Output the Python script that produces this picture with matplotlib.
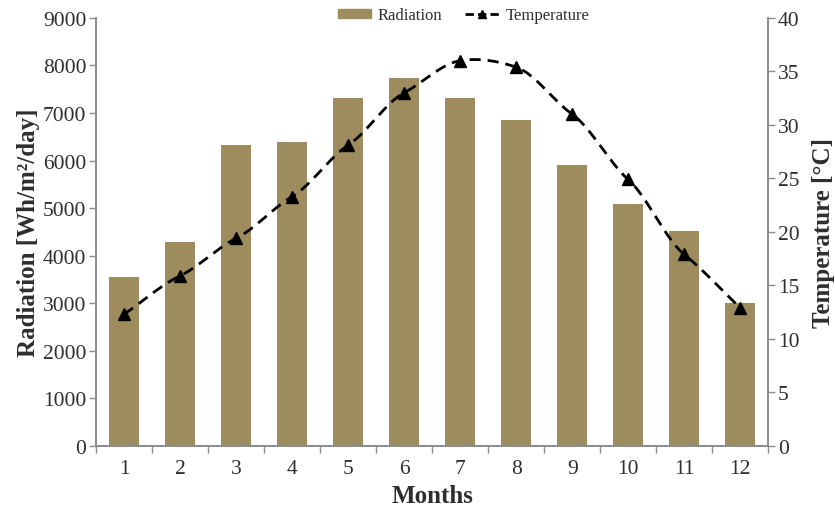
import numpy as np
import matplotlib
matplotlib.use("Agg")
import matplotlib.pyplot as plt
from matplotlib.lines import Line2D
from matplotlib.patches import Patch

months = [1, 2, 3, 4, 5, 6, 7, 8, 9, 10, 11, 12]
radiation = [3560, 4280, 6330, 6400, 7320, 7730, 7320, 6855, 5910, 5080, 4515, 3005]
temperature = [12.3, 15.9, 19.4, 23.3, 28.1, 33.0, 36.0, 35.4, 31.0, 24.9, 17.9, 12.9]

plt.rcParams['font.family'] = ['Liberation Serif', 'DejaVu Serif']

bar_color = '#9e8c5f'
spine_color = '#8c8c8c'
text_color = '#2e2e2e'

fig = plt.figure(figsize=(8.35, 5.10), dpi=100)
ax = fig.add_axes([0.115, 0.1235, 0.805, 0.8395])
ax2 = ax.twinx()

ax.bar(months, radiation, width=0.53, color=bar_color, zorder=2)


def smooth(x, y, n=24, k=0.7):
    # cubic Hermite curve through the data points (Excel-style smoothed line)
    x = np.asarray(x, float)
    y = np.asarray(y, float)
    m = np.gradient(y, x) * k
    m[0] = (y[1] - y[0]) / (x[1] - x[0])
    m[-1] = (y[-1] - y[-2]) / (x[-1] - x[-2])
    xs, ys = [], []
    t = np.linspace(0, 1, n, endpoint=False)
    for i in range(len(x) - 1):
        h = x[i + 1] - x[i]
        h00 = 2 * t ** 3 - 3 * t ** 2 + 1
        h10 = t ** 3 - 2 * t ** 2 + t
        h01 = -2 * t ** 3 + 3 * t ** 2
        h11 = t ** 3 - t ** 2
        xs.extend(x[i] + t * h)
        ys.extend(h00 * y[i] + h10 * h * m[i] + h01 * y[i + 1] + h11 * h * m[i + 1])
    xs.append(x[-1])
    ys.append(y[-1])
    return np.array(xs), np.array(ys)

sx, sy = smooth(months, temperature)
ax2.plot(sx, sy, color='black', lw=2.0, ls=(0, (4, 2.5)), zorder=3)
ax2.plot(months, temperature, ls='none', marker='^', ms=8, color='black', zorder=4)

ax.set_xlim(0.5, 12.5)
ax.set_ylim(0, 9000)
ax2.set_ylim(0, 40)
ax.set_yticks(range(0, 9001, 1000))
ax2.set_yticks(range(0, 41, 5))
ax.set_xticks(months)
ax.set_xticks(np.arange(0.5, 13, 1), minor=True)
ax.tick_params(axis='x', which='major', length=0, pad=9, labelsize=15.5, labelcolor=text_color)
ax.tick_params(axis='x', which='minor', length=5, width=1, color=spine_color, direction='out')
ax.tick_params(axis='y', length=5, width=1, color=spine_color, labelsize=15.5, labelcolor=text_color, pad=2)
ax2.tick_params(axis='y', length=5, width=1, color=spine_color, labelsize=15.5, labelcolor=text_color, pad=2)

for a in (ax, ax2):
    a.spines['top'].set_visible(False)
    for s in ('left', 'right', 'bottom'):
        a.spines[s].set_color(spine_color)
        a.spines[s].set_linewidth(1.2)

ax.set_xlabel('Months', fontsize=18, fontweight='bold', color=text_color, labelpad=5)
ax.set_ylabel('Radiation [Wh/m²/day]', fontsize=18, fontweight='bold', color=text_color, labelpad=2)
ax2.set_ylabel('Temperature [°C]', fontsize=18, fontweight='bold', color=text_color, labelpad=9)

handles = [Patch(color=bar_color, label='Radiation'),
           Line2D([], [], color='black', lw=2, ls=(0, (3, 1.5)), marker='^', ms=6, label='Temperature')]
fig.legend(handles=handles, loc='center', bbox_to_anchor=(0.555, 0.968), ncol=2, frameon=False,
           fontsize=12, handlelength=2.0, handleheight=0.45, columnspacing=1.4, handletextpad=0.4,
           labelcolor=text_color)

fig.savefig('out.png', dpi=100)
